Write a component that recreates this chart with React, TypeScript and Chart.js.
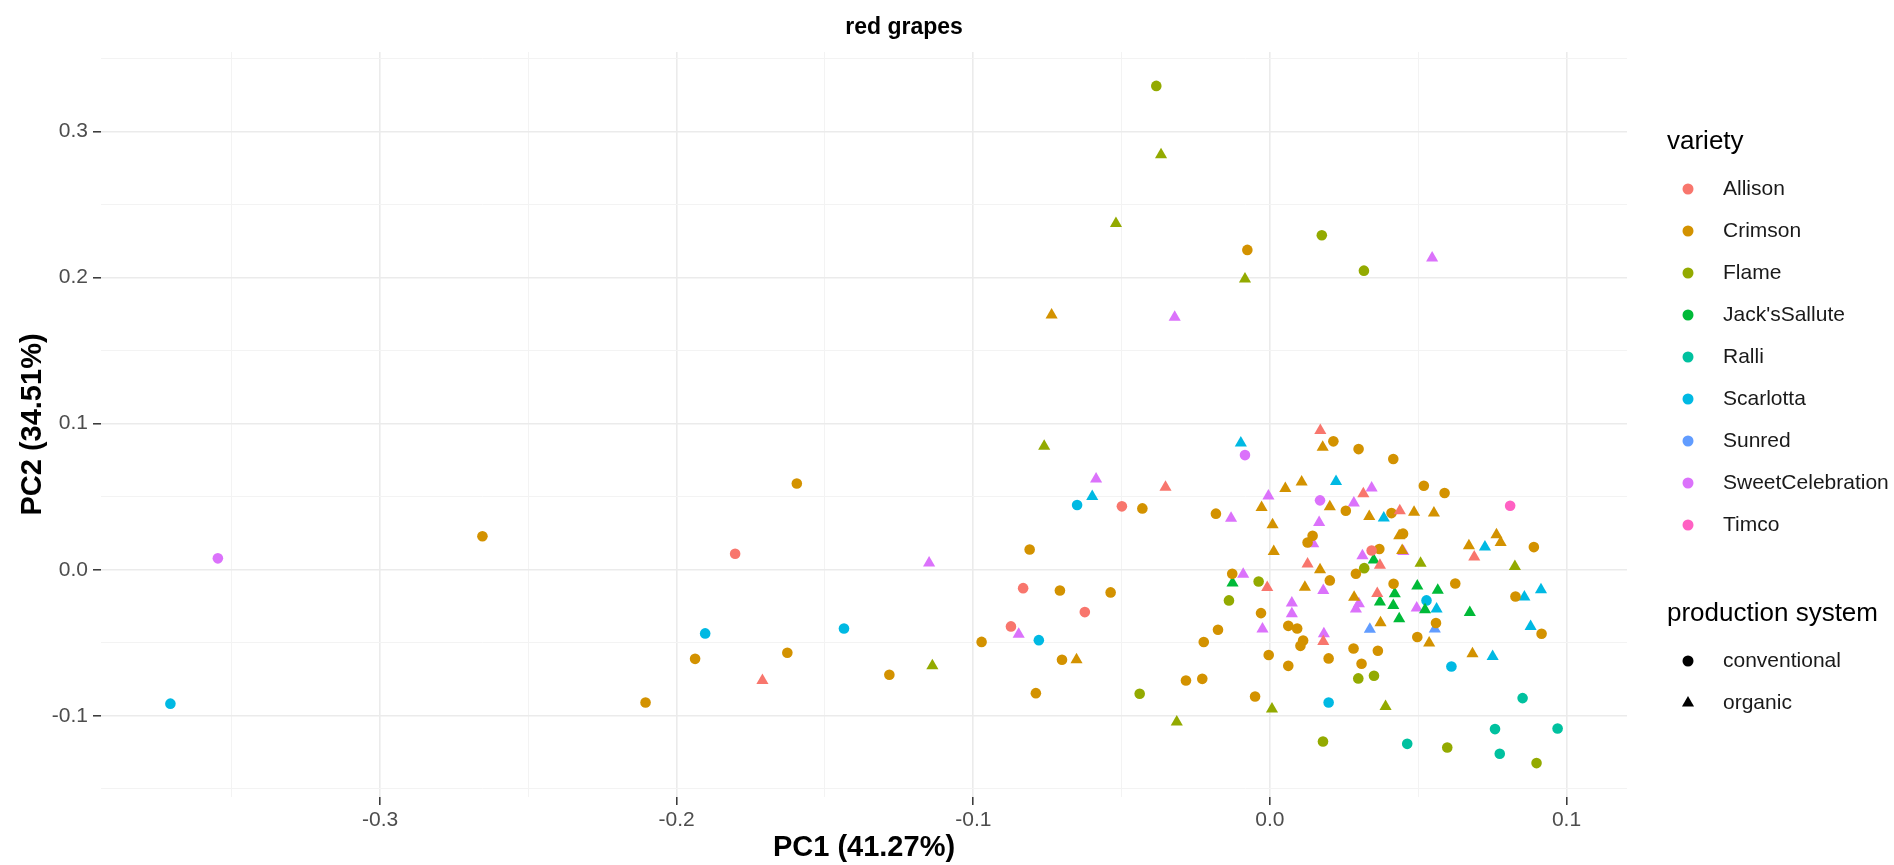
import React, { useEffect, useRef } from "react";
import { Chart, registerables } from "chart.js";

Chart.register(...registerables);

// ---------- categories ----------
const varieties = [
  "Allison",
  "Crimson",
  "Flame",
  "Jack'sSallute",
  "Ralli",
  "Scarlotta",
  "Sunred",
  "SweetCelebration",
  "Timco",
];
const productionSystems = ["conventional", "organic"];
const varietyColors = [
  "#F8766D",
  "#D39200",
  "#93AA00",
  "#00BA38",
  "#00C19F",
  "#00B9E3",
  "#619CFF",
  "#DB72FB",
  "#FF61C3",
];

// ---------- data: [PC1, PC2] ----------
const allisonConventional = [
  [-0.1803, 0.011], [-0.0499, 0.0434], [-0.0832, -0.0126], [-0.0624, -0.029],
  [-0.0873, -0.0388], [0.0343, 0.0132],
];
const allisonOrganic = [
  [-0.1711, -0.0758], [-0.0352, 0.0564], [0.017, 0.0954], [0.0315, 0.0521],
  [0.0438, 0.0404], [0.0371, 0.003], [0.0127, 0.0039], [-0.0009, -0.0121],
  [0.018, -0.0491], [0.0689, 0.0087], [0.0362, -0.0162],
];
const crimsonConventional = [
  [-0.2655, 0.0229], [-0.2105, -0.0909], [-0.1938, -0.061], [-0.1595, 0.0591],
  [-0.1627, -0.0568], [-0.1283, -0.0719], [-0.0972, -0.0494], [-0.081, 0.0139],
  [-0.0708, -0.0142], [-0.0537, -0.0155], [-0.043, 0.042], [-0.0701, -0.0616],
  [-0.0789, -0.0845], [-0.0283, -0.0758], [-0.0228, -0.0747], [-0.005, -0.0868],
  [-0.0076, 0.219], [0.0214, 0.0879], [0.0299, 0.0826], [0.0416, 0.0758],
  [0.0519, 0.0575], [0.0589, 0.0525], [0.0256, 0.0404], [-0.0182, 0.0384],
  [0.0144, 0.0233], [0.0127, 0.0187], [0.0369, 0.0142], [0.041, 0.0388],
  [0.0449, 0.0247], [0.089, 0.0155], [0.029, -0.0027], [0.0202, -0.0073],
  [-0.0127, -0.0027], [0.0417, -0.0096], [0.0625, -0.0094], [-0.003, -0.0297],
  [-0.0175, -0.0411], [-0.0223, -0.0495], [0.0062, -0.0384], [0.0092, -0.0402],
  [0.0112, -0.0484], [0.0103, -0.0521], [-0.0004, -0.0584], [0.0062, -0.0658],
  [0.0198, -0.0607], [0.0282, -0.0539], [0.0309, -0.0644], [0.0364, -0.0555],
  [0.056, -0.0365], [0.0497, -0.046], [0.0828, -0.0183], [0.0916, -0.0438],
];
const crimsonOrganic = [
  [-0.0736, 0.1744], [-0.0652, -0.0616], [0.0178, 0.0838], [0.0107, 0.0601],
  [0.0052, 0.0557], [0.0202, 0.0432], [-0.0028, 0.0427], [0.0009, 0.0308],
  [0.0335, 0.0365], [0.0013, 0.0125], [0.0169, 0.0], [0.0118, -0.0119],
  [0.0486, 0.0393], [0.0553, 0.0388], [0.0436, 0.0233], [0.0446, 0.0132],
  [0.0764, 0.024], [0.0778, 0.0187], [0.0671, 0.0164], [0.0284, -0.0188],
  [0.0373, -0.0363], [0.0537, -0.0502], [0.0683, -0.0575],
];
const flameConventional = [
  [-0.0383, 0.3313], [0.0175, 0.229], [0.0317, 0.2048], [0.0318, 0.0011],
  [-0.0038, -0.008], [-0.0138, -0.021], [-0.0439, -0.0849], [0.0298, -0.0744],
  [0.0351, -0.0726], [0.0179, -0.1176], [0.0598, -0.1217], [0.0899, -0.1324],
];
const flameOrganic = [
  [-0.0367, 0.2842], [-0.0519, 0.237], [-0.0084, 0.1991], [-0.0761, 0.0845],
  [-0.1138, -0.0658], [-0.0314, -0.1043], [0.0007, -0.0954], [0.039, -0.0936],
  [0.0508, 0.0045], [0.0826, 0.0023],
];
const jacksSalluteConventional: number[][] = [];
const jacksSalluteOrganic = [
  [-0.0126, -0.0091], [0.035, 0.0066], [0.0497, -0.0112], [0.0566, -0.014],
  [0.0421, -0.0164], [0.0371, -0.022], [0.0416, -0.0244], [0.0436, -0.0335],
  [0.0523, -0.0274], [0.0674, -0.0292],
];
const ralliConventional = [
  [0.0463, -0.1192], [0.0759, -0.1091], [0.0775, -0.126], [0.0852, -0.0879],
  [0.097, -0.1087],
];
const ralliOrganic: number[][] = [];
const scarlottaConventional = [
  [-0.3707, -0.0917], [-0.1904, -0.0436], [-0.1436, -0.0402], [-0.0779, -0.0482],
  [-0.065, 0.0443], [0.0198, -0.0909], [0.0528, -0.021], [0.0612, -0.0662],
];
const scarlottaOrganic = [
  [-0.0599, 0.0502], [-0.0098, 0.0868], [0.0223, 0.0605], [0.0384, 0.0354],
  [0.0725, 0.0155], [0.0914, -0.0137], [0.0858, -0.0187], [0.0562, -0.0269],
  [0.0879, -0.0388], [0.0751, -0.0594],
];
const sunredConventional: number[][] = [];
const sunredOrganic = [
  [0.0337, -0.0408], [0.0556, -0.0406],
];
const sweetCelebrationConventional = [
  [-0.3547, 0.0078], [-0.0084, 0.0785], [0.0169, 0.0475],
];
const sweetCelebrationOrganic = [
  [-0.1149, 0.0046], [-0.0586, 0.0621], [-0.0847, -0.0441], [-0.0321, 0.1728],
  [0.0547, 0.2135], [-0.0005, 0.0505], [0.0343, 0.0559], [0.0283, 0.0457],
  [-0.0131, 0.0352], [0.0166, 0.0324], [0.0146, 0.0178], [0.0312, 0.0096],
  [-0.009, -0.003], [0.018, -0.0142], [0.0074, -0.0228], [0.0074, -0.0301],
  [-0.0025, -0.0406], [0.0182, -0.0438], [0.03, -0.0233], [0.029, -0.0269],
  [0.0495, -0.0262], [0.045, 0.0125],
];
const timcoConventional = [[0.081, 0.0438]];
const timcoOrganic: number[][] = [];

const conventionalByVariety = [
  allisonConventional, crimsonConventional, flameConventional, jacksSalluteConventional,
  ralliConventional, scarlottaConventional, sunredConventional,
  sweetCelebrationConventional, timcoConventional,
];
const organicByVariety = [
  allisonOrganic, crimsonOrganic, flameOrganic, jacksSalluteOrganic, ralliOrganic,
  scarlottaOrganic, sunredOrganic, sweetCelebrationOrganic, timcoOrganic,
];

// ---------- axes ----------
const xLimits = [-0.3941, 0.1204];
const yLimits = [-0.1556, 0.3545];
const xMajorTicks = [-0.3, -0.2, -0.1, 0.0, 0.1];
const xTickLabels = ["-0.3", "-0.2", "-0.1", "0.0", "0.1"];
const xMinorTicks = [-0.35, -0.25, -0.15, -0.05, 0.05];
const yMajorTicks = [-0.1, 0.0, 0.1, 0.2, 0.3];
const yTickLabels = ["-0.1", "0.0", "0.1", "0.2", "0.3"];
const yMinorTicks = [-0.15, -0.05, 0.05, 0.15, 0.25, 0.35];

const titleText = "red grapes";
const xTitle = "PC1 (41.27%)";
const yTitle = "PC2 (34.51%)";
const varietyTitle = "variety";
const systemTitle = "production system";

const FONT = '"Liberation Sans", Arial, Helvetica, sans-serif';

const majorIndex = (list: number[], v: number) =>
  list.findIndex((m) => Math.abs(m - v) < 1e-9);

function buildTicks(major: number[], minor: number[]) {
  return [...major, ...minor].sort((a, b) => a - b).map((v) => ({ value: v }));
}

const overlayPlugin = {
  id: "ggOverlay",
  afterDraw(chart: any) {
    const ctx: CanvasRenderingContext2D = chart.ctx;
    ctx.save();
    // plot title
    ctx.fillStyle = "#000000";
    ctx.font = `bold 23px ${FONT}`;
    ctx.textAlign = "center";
    ctx.textBaseline = "middle";
    ctx.fillText(titleText, 904, 28);

    // legend: variety
    ctx.textAlign = "left";
    ctx.font = `26px ${FONT}`;
    ctx.fillStyle = "#000000";
    ctx.fillText(varietyTitle, 1667, 142);
    varieties.forEach((name, i) => {
      const y = 189 + i * 42;
      ctx.beginPath();
      ctx.fillStyle = varietyColors[i];
      ctx.arc(1688, y, 5.5, 0, Math.PI * 2);
      ctx.fill();
      ctx.fillStyle = "#1A1A1A";
      ctx.font = `21px ${FONT}`;
      ctx.fillText(name, 1723, y);
    });

    // legend: production system
    ctx.font = `26px ${FONT}`;
    ctx.fillStyle = "#000000";
    ctx.fillText(systemTitle, 1667, 614);
    productionSystems.forEach((name, i) => {
      const y = 661 + i * 42;
      ctx.fillStyle = "#000000";
      ctx.beginPath();
      if (i === 0) {
        ctx.arc(1688, y, 5.5, 0, Math.PI * 2);
      } else {
        const r = 7;
        ctx.moveTo(1688, y - r);
        ctx.lineTo(1688 + r * 0.866, y + r * 0.5);
        ctx.lineTo(1688 - r * 0.866, y + r * 0.5);
        ctx.closePath();
      }
      ctx.fill();
      ctx.fillStyle = "#1A1A1A";
      ctx.font = `21px ${FONT}`;
      ctx.fillText(name, 1723, y);
    });
    ctx.restore();
  },
};

export default function App() {
  const canvasRef = useRef<HTMLCanvasElement | null>(null);

  useEffect(() => {
    if (!canvasRef.current) return;
    const datasets: any[] = [];
    varieties.forEach((name, i) => {
      const color = varietyColors[i];
      [conventionalByVariety[i], organicByVariety[i]].forEach((pts, s) => {
        if (!pts.length) return;
        datasets.push({
          label: `${name} ${productionSystems[s]}`,
          data: pts.map(([x, y]) => ({ x, y })),
          backgroundColor: color,
          borderColor: color,
          borderWidth: 0,
          pointStyle: s === 0 ? "circle" : "triangle",
          pointRadius: s === 0 ? 5.3 : 7,
          pointHoverRadius: s === 0 ? 5.3 : 7,
        });
      });
    });

    const gridColor = (major: number[]) => (c: any) =>
      majorIndex(major, c.tick?.value) >= 0 ? "#EBEBEB" : "#F3F3F3";
    const gridWidth = (major: number[]) => (c: any) =>
      majorIndex(major, c.tick?.value) >= 0 ? 1.6 : 1;
    const tickColor = (major: number[]) => (c: any) =>
      majorIndex(major, c.tick?.value) >= 0 ? "#333333" : "rgba(0,0,0,0)";

    const chart = new Chart(canvasRef.current, {
      type: "scatter",
      data: { datasets },
      plugins: [overlayPlugin],
      options: {
        responsive: false,
        animation: false,
        events: [],
        layout: { padding: { left: 0, top: 52, right: 267, bottom: 0 }, autoPadding: false },
        plugins: { legend: { display: false }, title: { display: false }, tooltip: { enabled: false } },
        scales: {
          x: {
            type: "linear",
            min: xLimits[0],
            max: xLimits[1],
            bounds: "data",
            afterBuildTicks: (scale: any) => {
              scale.ticks = buildTicks(xMajorTicks, xMinorTicks);
            },
            afterFit: (scale: any) => {
              scale.height = 68;
            },
            border: { display: false },
            grid: {
              color: gridColor(xMajorTicks),
              lineWidth: gridWidth(xMajorTicks),
              drawTicks: true,
              tickLength: 8,
              tickColor: tickColor(xMajorTicks),
              tickWidth: 1.5,
            },
            ticks: {
              autoSkip: false,
              maxRotation: 0,
              padding: 3,
              color: "#4D4D4D",
              font: { size: 21, family: FONT },
              callback: (v: any) => {
                const k = majorIndex(xMajorTicks, Number(v));
                return k >= 0 ? xTickLabels[k] : "";
              },
            },
            title: {
              display: true,
              text: xTitle,
              color: "#000000",
              font: { size: 29, weight: "bold", family: FONT, lineHeight: 1.2 },
              padding: { top: 0, bottom: 0 },
            },
          },
          y: {
            type: "linear",
            min: yLimits[0],
            max: yLimits[1],
            bounds: "data",
            afterBuildTicks: (scale: any) => {
              scale.ticks = buildTicks(yMajorTicks, yMinorTicks);
            },
            afterFit: (scale: any) => {
              scale.width = 101;
            },
            border: { display: false },
            grid: {
              color: gridColor(yMajorTicks),
              lineWidth: gridWidth(yMajorTicks),
              drawTicks: true,
              tickLength: 8,
              tickColor: tickColor(yMajorTicks),
              tickWidth: 1.5,
            },
            ticks: {
              autoSkip: false,
              padding: 5,
              color: "#4D4D4D",
              font: { size: 21, family: FONT },
              callback: (v: any) => {
                const k = majorIndex(yMajorTicks, Number(v));
                return k >= 0 ? yTickLabels[k] : "";
              },
            },
            title: {
              display: true,
              text: yTitle,
              color: "#000000",
              font: { size: 29, weight: "bold", family: FONT, lineHeight: 1.2 },
              padding: { top: 16, bottom: 0 },
            },
          },
        },
      } as any,
    });
    return () => chart.destroy();
  }, []);

  return (
    <div style={{ position: "absolute", left: 0, top: 0, width: 1894, height: 865, background: "#ffffff" }}>
      <canvas ref={canvasRef} width={1894} height={865} style={{ display: "block", width: 1894, height: 865 }} />
    </div>
  );
}
